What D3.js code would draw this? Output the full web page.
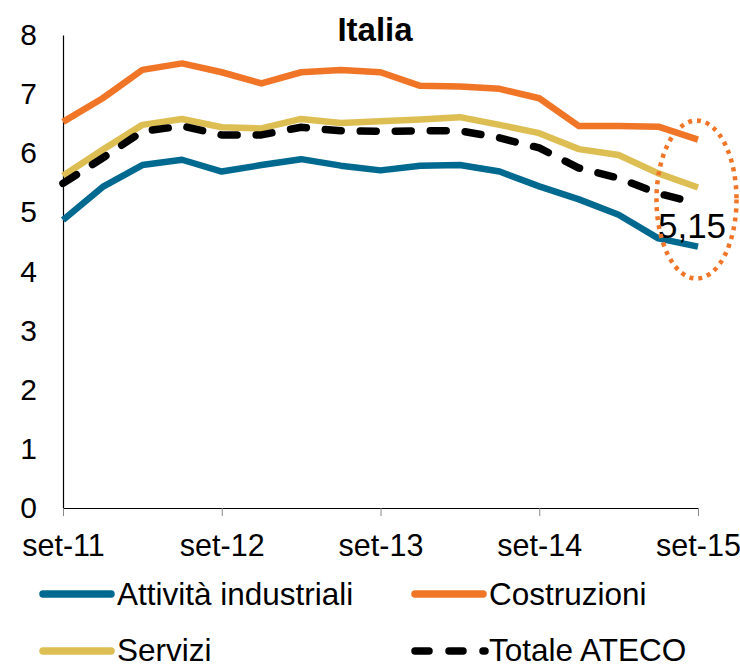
<!DOCTYPE html>
<html>
<head>
<meta charset="utf-8">
<script src="https://cdn.jsdelivr.net/npm/d3@7"></script>
<style>
  html, body { margin: 0; padding: 0; background: #fff; }
  svg { display: block; font-family: "Liberation Sans", Arial, sans-serif; }
</style>
</head>
<body>
<svg id="chart" width="740" height="667"></svg>
<script>
// ---- Data ----
const periods = ["set-11","dic-11","mar-12","giu-12","set-12","dic-12","mar-13","giu-13",
                 "set-13","dic-13","mar-14","giu-14","set-14","dic-14","mar-15","giu-15","set-15"];
const xTickLabels = ["set-11","set-12","set-13","set-14","set-15"];
const yTicks = [0,1,2,3,4,5,6,7,8];

const attivitaIndustriali = [4.87,5.43,5.80,5.89,5.69,5.80,5.90,5.79,5.71,5.79,5.80,5.69,5.44,5.22,4.96,4.56,4.42];
const costruzioni        = [6.53,6.93,7.41,7.52,7.37,7.18,7.37,7.41,7.37,7.14,7.13,7.09,6.93,6.46,6.46,6.45,6.23];
const servizi            = [5.62,6.06,6.48,6.58,6.44,6.42,6.58,6.51,6.54,6.57,6.61,6.48,6.34,6.07,5.97,5.66,5.42];
const totaleAteco        = [5.49,5.92,6.37,6.46,6.31,6.31,6.44,6.38,6.37,6.38,6.38,6.26,6.09,5.75,5.58,5.32,5.15];

const seriesNames = ["Attività industriali","Costruzioni","Servizi","Totale ATECO"];
const seriesColors = ["#00698F","#F07527","#DDBE52","#000000"];
const title = "Italia";
const lastLabel = "5,15";

// ---- Setup ----
const svg = d3.select("#chart");
const x = d3.scalePoint().domain(periods).range([63, 698]);
const y = d3.scaleLinear().domain([0, 8]).range([508, 35]);

// Title
svg.append("text")
  .attr("x", 375).attr("y", 41)
  .attr("text-anchor", "middle")
  .attr("font-size", 33).attr("font-weight", "bold")
  .attr("fill", "#000")
  .text(title);

// Y axis
const yAxis = svg.append("g")
  .attr("transform", "translate(63,0)")
  .call(d3.axisLeft(y).tickValues(yTicks).tickSize(0).tickPadding(26).tickFormat(d3.format("d")));
yAxis.select(".domain").attr("stroke", "#000").attr("stroke-width", 1.2);
yAxis.selectAll("text").attr("font-size", 30).attr("fill", "#000")
  .attr("font-family", "'Liberation Sans', Arial, sans-serif");

// X axis
const xAxis = svg.append("g")
  .attr("transform", "translate(0,508)")
  .call(d3.axisBottom(x).tickValues(xTickLabels).tickSize(8).tickPadding(18).tickSizeOuter(0));
xAxis.select(".domain").attr("stroke", "#000").attr("stroke-width", 1.2);
xAxis.selectAll(".tick line").attr("stroke", "#888").attr("stroke-width", 1);
xAxis.selectAll("text").attr("font-size", 30.5).attr("fill", "#000")
  .attr("font-family", "'Liberation Sans', Arial, sans-serif");

// Lines
const allSeries = [attivitaIndustriali, costruzioni, servizi, totaleAteco];
const line = d3.line().x((d, i) => x(periods[i])).y(d => y(d));

allSeries.forEach((vals, k) => {
  const p = svg.append("path")
    .datum(vals)
    .attr("d", line)
    .attr("fill", "none")
    .attr("stroke", seriesColors[k])
    .attr("stroke-linejoin", "round");
  if (k === 3) {
    p.attr("stroke-width", 7.5).attr("stroke-dasharray", "16,19").attr("stroke-linecap", "round");
  } else {
    p.attr("stroke-width", 6.5).attr("stroke-linecap", "butt");
  }
});

// Last value label
const lastIdx = periods.length - 1;
svg.append("text")
  .attr("x", x(periods[lastIdx]) - 6)
  .attr("y", y(totaleAteco[lastIdx]) + 34)
  .attr("text-anchor", "middle")
  .attr("font-size", 35)
  .attr("fill", "#000")
  .text(lastLabel);

// Dotted ellipse highlight
svg.append("ellipse")
  .attr("cx", x(periods[lastIdx]) - 1.5)
  .attr("cy", y(totaleAteco[lastIdx]) - 4)
  .attr("rx", 40).attr("ry", 79)
  .attr("fill", "none")
  .attr("stroke", "#F07527")
  .attr("stroke-width", 4.5)
  .attr("stroke-dasharray", "4,5");

// Legend
const legendItems = [
  {name: seriesNames[0], color: seriesColors[0], lx: 40, ly: 594, dash: false},
  {name: seriesNames[1], color: seriesColors[1], lx: 412, ly: 594, dash: false},
  {name: seriesNames[2], color: seriesColors[2], lx: 40, ly: 651, dash: false},
  {name: seriesNames[3], color: seriesColors[3], lx: 412, ly: 651, dash: true}
];
legendItems.forEach(it => {
  const l = svg.append("line")
    .attr("x1", it.lx + 3).attr("x2", it.lx + 71)
    .attr("y1", it.ly).attr("y2", it.ly)
    .attr("stroke", it.color)
    .attr("stroke-linecap", "round");
  if (it.dash) {
    l.attr("x1", it.lx + 3).attr("x2", it.lx + 73)
     .attr("stroke-width", 7.5).attr("stroke-dasharray", "14,20");
  } else {
    l.attr("stroke-width", 7.5);
  }
  svg.append("text")
    .attr("x", it.lx + 77).attr("y", it.ly + (it.ly > 620 ? 9.5 : 11))
    .attr("font-size", 31.5).attr("fill", "#000")
    .text(it.name);
});
</script>
</body>
</html>
